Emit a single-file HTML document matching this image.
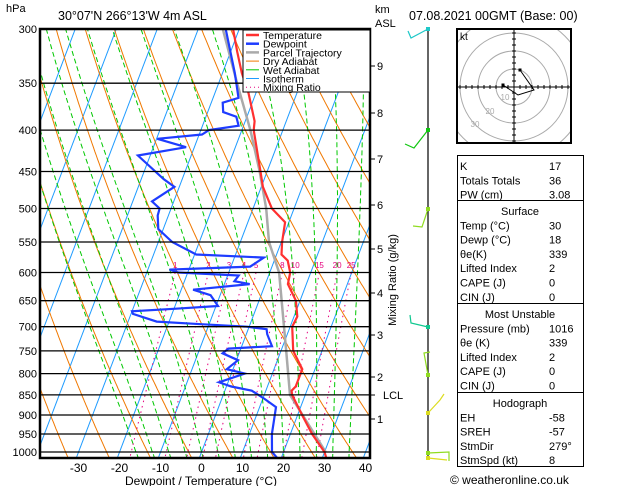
<!DOCTYPE html>
<html><head><meta charset="utf-8">
<style>
body{margin:0;background:#fff;}
svg{display:block;font-family:"Liberation Sans",sans-serif;}
</style></head>
<body>
<svg id="chart" width="629" height="486" viewBox="0 0 629 486" xmlns="http://www.w3.org/2000/svg">
<defs><clipPath id="plotclip"><rect x="40" y="29" width="330" height="429"/></clipPath>
<clipPath id="hodoclip"><rect x="457" y="29" width="114" height="114"/></clipPath></defs>
<rect width="629" height="486" fill="#fff"/>
<g id="bg" clip-path="url(#plotclip)"></g>
<g id="series" clip-path="url(#plotclip)"></g>
<g id="axes"></g>
<g id="legend"></g>
<g id="winds"></g>
<g id="hodo"></g>
<g id="table"></g>
</svg>
<script>
// ---- data ----
const pressureTicks=[300,350,400,450,500,550,600,650,700,750,800,850,900,950,1000];
const tempTicks=[-30,-20,-10,0,10,20,30,40];
const tempP=[1017,1000,950,900,850,840,830,790,750,700,680,650,620,600,580,570,550,520,500,470,450,400,390,360,340,320,300];
const tempT=[31,30,25.3,21.1,16.8,16.3,16.9,16.9,13,10.5,10.8,9,5.5,5,3.3,1.2,0.2,-0.9,-5.4,-9.6,-11.6,-17.1,-17.7,-21.8,-25.3,-28.4,-31.5];
const dewP=[1017,1000,950,880,860,840,830,820,800,790,770,755,745,740,715,705,700,695,690,675,670,665,660,640,630,620,615,605,600,595,590,575,570,550,530,510,500,490,470,460,430,420,410,405,400,395,385,380,370,365,340,300];
const dewT=[19,17.2,15.5,14,10.5,6.6,1.2,-2.2,3.3,-1.5,0.4,-4,-3,7.4,5.1,4.5,-0.5,-12,-23,-29.5,-30,-19.5,-9.5,-12.3,-17.1,-3.8,-7.8,-7.3,-22.3,-24.7,-5.3,-2.8,-19.6,-26.6,-31.2,-32.6,-32.8,-35.3,-31.2,-34.5,-43,-32,-39.8,-29.3,-28,-21.2,-22.6,-26.2,-27.2,-23.8,-27,-33.3];
const parcelP=[1000,850,750,700,600,550,500,450,400,350,300];
const parcelT=[30.3,16.3,11.3,8.5,2.3,-3,-6.8,-11.8,-17.9,-25.5,-34];
const mixRatios=[1,2,3,4,5,8,10,15,20,25];
const kmLabels=["9","8","7","6","5","4","3","2","1"];
const kmY=[66,113,159,205,249,293,335,377,419];
const windP=[300,400,500,700,800,900,1000,1017];
const hodoU=[-5.5,2,10,3];
const hodoV=[1,-4,-1.5,8.5];

// ---- axes functions ----
const NS="http://www.w3.org/2000/svg";
function yP(p){return 452-351.3*Math.log(1000/p);}
function xT(t,p){return 201.5+4.1*t+0.38*(452-yP(p));}
function mk(tag,parent){const e=document.createElementNS(NS,tag);parent.appendChild(e);return e;}
function line(parent,pts,color,w,dash){const e=mk('polyline',parent);e.setAttribute('points',pts.map(q=>q[0].toFixed(1)+','+q[1].toFixed(1)).join(' '));e.setAttribute('fill','none');e.setAttribute('stroke',color);e.setAttribute('stroke-width',w);if(dash)e.setAttribute('stroke-dasharray',dash);return e;}
function txt(parent,x,y,s,size,anchor,color){const e=mk('text',parent);e.setAttribute('x',x);e.setAttribute('y',y);e.setAttribute('font-size',size);if(anchor)e.setAttribute('text-anchor',anchor);e.setAttribute('fill',color||'#000');e.textContent=s;return e;}

const bg=document.getElementById('bg');
const plist=[];for(let p=1020;p>=295;p-=5)plist.push(p);
for(let t=-130;t<=40;t+=10){
 const l=line(bg,[[xT(t,1020),yP(1020)],[xT(t,295),yP(295)]],'#1e9bff',1);
 
 
}
for(let th=240;th<=470;th+=10){
 const l=line(bg,plist.map(p=>[xT(th*Math.pow(p/1000,0.2857)-273.15,p),yP(p)]),'#f07800',1);
 
 
}
function es(t){return 6.112*Math.exp(17.67*t/(t+243.5));}
function dTdp(t,p){const T=t+273.15;const rs=0.622*es(t)/(p-es(t));const L=2.5e6,Rd=287,cp=1004;
 return (Rd*T+L*rs)/(p*(cp+L*L*rs*0.622/(Rd*T*T)));}
for(let t0=-16;t0<=36;t0+=4){
 const pts=[];let t=t0;
 for(let p=1000;p>=295;p-=1){if(p%5===0)pts.push([xT(t,p),yP(p)]);t-=dTdp(t,p)*1;}
 let tb=t0;const lo=[];for(let p=1000;p<=1020;p+=1){tb+=dTdp(tb,p);if(p%5===0)lo.push([xT(tb,p),yP(p)]);}
 const l=line(bg,lo.reverse().concat(pts),'#00c800',1,'5,3');
 
 
}
for(const w of mixRatios){
 const pts=[];for(let p=600;p<=1020;p+=10){const e=w*p/(622+w);const a=Math.log(e/6.112);const td=243.5*a/(17.67-a);pts.push([xT(td,p),yP(p)]);}
 const l=line(bg,pts,'#e6007e',1,'1.5,4');
 
 
 const t=txt(bg,pts[0][0],268,String(w),8,'middle','#e6007e');
 
 
}
const axes=document.getElementById('axes');
for(const p of pressureTicks){
 const l=line(axes,[[40,yP(p)],[370,yP(p)]],'#000',1.3);
 
 
 const t=txt(axes,37,yP(p)+4,String(p),11,'end');
 
 
}
const ser=document.getElementById('series');
const par=line(ser,parcelP.map((p,i)=>[xT(parcelT[i],p),yP(p)]),'#aaaaaa',2.5);


const tl=line(ser,tempP.map((p,i)=>[xT(tempT[i],p),yP(p)]),'#ff3030',2.2);


const dl=line(ser,dewP.map((p,i)=>[xT(dewT[i],p),yP(p)]),'#1e3cff',2.2);


const fr=mk('rect',axes);fr.setAttribute('x',40);fr.setAttribute('y',29);fr.setAttribute('width',330);fr.setAttribute('height',429);fr.setAttribute('fill','none');fr.setAttribute('stroke','#000');fr.setAttribute('stroke-width',2.5);


for(const t of tempTicks){
 const e=txt(axes,xT(t,1000),472,String(t),12,'middle');
 
 
}
let e;
e=txt(axes,201,485,'Dewpoint / Temperature (°C)',12,'middle');


e=txt(axes,6,12,'hPa',11);


e=txt(axes,58,20,"30°07'N  266°13'W  4m ASL",12.5);


e=txt(axes,409,20,"07.08.2021  00GMT  (Base: 00)",12.5);


e=txt(axes,375,13,'km',11);


e=txt(axes,375,27,'ASL',11);


kmLabels.forEach((s,i)=>{
 const l=line(axes,[[370,kmY[i]],[375,kmY[i]]],'#000',1);
 
 
 const t=txt(axes,377,kmY[i]+4,s,11);
 
 
});
e=line(axes,[[370,395],[375,395]],'#000',1);


e=txt(axes,383,399,'LCL',11);


e=txt(axes,0,0,'Mixing Ratio (g/kg)',11,'middle');
e.setAttribute('transform','translate(396,280) rotate(-90)');


const lg=document.getElementById('legend');
const lb=mk('rect',lg);lb.setAttribute('x',243);lb.setAttribute('y',30);lb.setAttribute('width',127);lb.setAttribute('height',62);lb.setAttribute('fill','#fff');lb.setAttribute('stroke','#000');


const legNames=['Temperature','Dewpoint','Parcel Trajectory','Dry Adiabat','Wet Adiabat','Isotherm','Mixing Ratio'];
const legColors=['#ff3030','#1e3cff','#aaaaaa','#f07800','#00c800','#1e9bff','#e6007e'];
const legW=[2.5,2.5,2.5,1,1,1,1];
legNames.forEach((n,i)=>{
 const y=35+i*8.7;
 const l=line(lg,[[246,y],[259,y]],legColors[i],legW[i],i===6?'1,3':null);
 
 
 const t=txt(lg,263,y+4,n,10.5);
 
 
});
const wg=document.getElementById('winds');
e=line(wg,[[428,29],[428,459]],'#000',1.2);


const windCol=['#1ec8c8','#10c810','#90dc20','#10c890','#90dc20','#dcdc20','#90dc20','#dcdc20'];
const barbs=[[[428,29],[411,38],[408,31]],[[428,130],[414,148],[405,144]],[[428,209],[422,227],[413,226]],[[428,327],[411,323],[410,315]],[[428,375],[424,353],[430,352]],[[428,413],[440,400],[444,394]],[[428,453],[449,452],[449,461]],[[428,458],[447,460]]];
windP.forEach((p,i)=>{
 const b=barbs[i];
 const l=line(wg,b,windCol[i],1.2);
 
 
 const d=mk('rect',wg);d.setAttribute('x',b[0][0]-2);d.setAttribute('y',b[0][1]-2);d.setAttribute('width',4);d.setAttribute('height',4);d.setAttribute('fill',windCol[i]);
 
 
});
const hg=document.getElementById('hodo');
const hcx=514,hcy=87,hs=2.0;
const hc=mk('g',hg);hc.setAttribute('clip-path','url(#hodoclip)');
[18,36,54,72].forEach(r=>{const c=mk('circle',hc);c.setAttribute('cx',hcx);c.setAttribute('cy',hcy);c.setAttribute('r',r);c.setAttribute('fill','none');c.setAttribute('stroke','#aaa');
 
 });
e=line(hg,[[457,hcy],[571,hcy]],'#000',1);


e=line(hg,[[hcx,29],[hcx,143]],'#000',1);


for(let d=-54;d<=54;d+=6){if(d===0)continue;line(hg,[[hcx+d,hcy-2],[hcx+d,hcy+2]],'#000',1);line(hg,[[hcx-2,hcy+d],[hcx+2,hcy+d]],'#000',1);}
[['10',505,100],['20',490,114],['30',475,127]].forEach(a=>{const t=txt(hg,a[1],a[2],a[0],8,'middle','#aaa');
 });
const hl=line(hg,hodoU.map((u,i)=>[hcx+u*hs,hcy-hodoV[i]*hs]),'#000',1);


hodoU.forEach((u,i)=>{if(i!==0&&i!==hodoU.length-1)return;const d=mk('rect',hg);d.setAttribute('x',hcx+u*hs-1.5);d.setAttribute('y',hcy-hodoV[i]*hs-1.5);d.setAttribute('width',3);d.setAttribute('height',3);d.setAttribute('fill','#000');
 
 });
const hb=mk('rect',hg);hb.setAttribute('x',457);hb.setAttribute('y',29);hb.setAttribute('width',114);hb.setAttribute('height',114);hb.setAttribute('fill','none');hb.setAttribute('stroke','#000');hb.setAttribute('stroke-width',2);


e=txt(hg,460,40,'kt',10);


const tg=document.getElementById('table');
const sections=[[155,200,null,[['K','17'],['Totals Totals','36'],['PW (cm)','3.08']]],[200,303,'Surface',[['Temp (°C)','30'],['Dewp (°C)','18'],['θe(K)','339'],['Lifted Index','2'],['CAPE (J)','0'],['CIN (J)','0']]],[303,392,'Most Unstable',[['Pressure (mb)','1016'],['θe (K)','339'],['Lifted Index','2'],['CAPE (J)','0'],['CIN (J)','0']]],[392,466,'Hodograph',[['EH','-58'],['SREH','-57'],['StmDir','279°'],['StmSpd (kt)','8']]]];
sections.forEach(s=>{
 const r=mk('rect',tg);r.setAttribute('x',457.5);r.setAttribute('y',s[0]+.5);r.setAttribute('width',126);r.setAttribute('height',s[1]-s[0]);r.setAttribute('fill','none');r.setAttribute('stroke','#000');
 
 
 let y=s[0]+14;
 if(s[2]){const h=txt(tg,520,y+1,s[2],11,'middle');
 y+=14.3;}
 s[3].forEach(row=>{
  const a=txt(tg,460,y+1,row[0],11);
  
  const b=txt(tg,549,y+1,row[1],11);
  
  y+=14.3;
 });
});
e=txt(tg,450,484,'© weatheronline.co.uk',12);


</script>
</body></html>
